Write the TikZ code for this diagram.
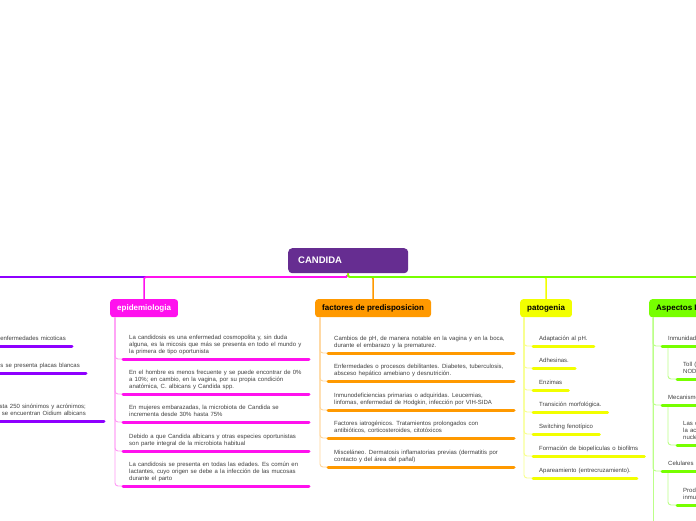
\documentclass[tikz,border=0pt]{standalone}
\usepackage{fontspec}
\setmainfont{Liberation Sans}
\newfontfamily\canditemfont{Liberation Sans}[WordSpace=1.3]
\usetikzlibrary{positioning}
\definecolor{RootPurple}{HTML}{662D91}
\definecolor{LeftViolet}{HTML}{8E00FF}
\definecolor{EpiMagenta}{HTML}{FF11EE}
\definecolor{EpiSoft}{HTML}{FF99F6}
\definecolor{FactOrange}{HTML}{FF9900}
\definecolor{FactSoft}{HTML}{FFD699}
\definecolor{PatoYellow}{HTML}{F2FF00}
\definecolor{PatoSoft}{HTML}{F8FF8C}
\definecolor{AspGreen}{HTML}{77FF00}
\definecolor{AspSoft}{HTML}{BBFF88}
\definecolor{TextGray}{HTML}{404040}
\tikzset{
candroot/.style={fill=RootPurple, text=white, rounded corners=4pt, anchor=north west, minimum height=25pt, text width=100pt, inner xsep=10pt, align=left, font=\fontsize{9.5}{11}\selectfont\bfseries},
candbranch/.style={rounded corners=3pt, anchor=north west, minimum height=18pt, inner xsep=7pt, font=\fontsize{8}{9}\selectfont\bfseries},
canditem/.style={anchor=south west, align=left, inner xsep=6pt, inner ysep=3.5pt, text=TextGray, font=\canditemfont\fontsize{6}{6.8}\selectfont, execute at end node=\strut},
candleft/.style={canditem, anchor=south east, align=right},
candlink/.style={line width=1.6pt, rounded corners=2pt, draw=#1},
candtrunk/.style={line width=0.9pt, rounded corners=3pt, draw=#1},
candline/.style={line width=3pt, line cap=round, draw=#1}
}
\begin{document}
\begin{tikzpicture}[x=1pt, y=-1pt]
  \useasboundingbox (0,0) rectangle (696,520);
  \fill[white] (0,0) rectangle (696,520);
  \clip (0,0) rectangle (696,520);
  % root and main branches
  \node[candroot] (root) at (288,248) {CANDIDA};
  \coordinate (hub) at (348,277);
  \coordinate (leftend) at (0,277);
  \node[candbranch, fill=EpiMagenta, text=white] (epi) at (110,299) {epidemiologia};
  \node[candbranch, fill=FactOrange] (fact) at (315,299) {factores de predisposicion};
  \node[candbranch, fill=PatoYellow] (pato) at (520,299) {patogenia};
  \node[candbranch, fill=AspGreen] (asp) at (649,299) {Aspectos Inmunológicos};
  \draw[candlink=LeftViolet] (root.south) -- (hub) -- (leftend);
  \draw[candlink=EpiMagenta] (root.south) -- (hub) -| (epi.north);
  \draw[candlink=FactOrange] (root.south) -- (hub) -| (fact.north);
  \draw[candlink=PatoYellow] (root.south) -- (hub) -| (pato.north);
  \draw[candlink=AspGreen] (root.south) -- (hub) -| (asp.north);
  \coordinate (epitrunk) at ([xshift=5pt]epi.south west);
  \coordinate (facttrunk) at ([xshift=5pt]fact.south west);
  \coordinate (patotrunk) at ([xshift=4pt]pato.south west);
  \coordinate (asptrunk) at ([xshift=4pt]asp.south west);
  \coordinate (aspend) at (653,522);
  % left branch (cut off)
  \node[candleft] (v1) at (72,346) {Es una de las enfermedades micoticas};
  \node[candleft] (v2) at (86,373) {En los niños se presenta placas blancas};
  \node[candleft] (v3) at (92,421) {Se le conocen hasta 250 sinónimos y acrónimos;\\en la literatura se encuentran Oidium albicans};
  \draw[candline=LeftViolet] (v1.south west) -- (v1.south east);
  \draw[candline=LeftViolet] (v2.south west) -- (v2.south east);
  \draw[candline=LeftViolet] (v3.south west) -- ([xshift=12pt]v3.south east);
  % epidemiologia
  \node[canditem] (e1) at (123,359) {La candidosis es una enfermedad cosmopolita y, sin duda\\alguna, es la micosis que más se presenta en todo el mundo y\\la primera de tipo oportunista};
  \node[canditem] (e2) at (123,394) {En el hombre es menos frecuente y se puede encontrar de 0\%\\a 10\%; en cambio, en la vagina, por su propia condición\\anatómica, C. albicans y Candida spp.};
  \node[canditem] (e3) at (123,422) {En mujeres embarazadas, la microbiota de Candida se\\incrementa desde 30\% hasta 75\%};
  \node[canditem] (e4) at (123,451) {Debido a que Candida albicans y otras especies oportunistas\\son parte integral de la microbiota habitual};
  \node[canditem] (e5) at (123,486) {La candidosis se presenta en todas las edades. Es común en\\lactantes, cuyo origen se debe a la infección de las mucosas\\durante el parto};
  \draw[candtrunk=EpiSoft] (epitrunk) |- (e1.south west);
  \draw[candtrunk=EpiSoft] (epitrunk) |- (e2.south west);
  \draw[candtrunk=EpiSoft] (epitrunk) |- (e3.south west);
  \draw[candtrunk=EpiSoft] (epitrunk) |- (e4.south west);
  \draw[candtrunk=EpiSoft] (epitrunk) |- (e5.south west);
  \draw[candline=EpiMagenta] (e1.south west) -- ++(186,0);
  \draw[candline=EpiMagenta] (e2.south west) -- ++(186,0);
  \draw[candline=EpiMagenta] (e3.south west) -- ++(186,0);
  \draw[candline=EpiMagenta] (e4.south west) -- ++(186,0);
  \draw[candline=EpiMagenta] (e5.south west) -- ++(186,0);
  % factores de predisposicion
  \node[canditem] (f1) at (328,353) {Cambios de pH, de manera notable en la vagina y en la boca,\\durante el embarazo y la prematurez.};
  \node[canditem] (f2) at (328,381) {Enfermedades o procesos debilitantes. Diabetes, tuberculosis,\\absceso hepático amebiano y desnutrición.};
  \node[canditem] (f3) at (328,410) {Inmunodeficiencias primarias o adquiridas. Leucemias,\\linfomas, enfermedad de Hodgkin, infección por VIH-SIDA};
  \node[canditem] (f4) at (328,438) {Factores iatrogénicos. Tratamientos prolongados con\\antibióticos, corticosteroides, citotóxicos};
  \node[canditem] (f5) at (328,467) {Misceláneo. Dermatosis inflamatorias previas (dermatitis por\\contacto y del área del pañal)};
  \draw[candtrunk=FactSoft] (facttrunk) |- (f1.south west);
  \draw[candtrunk=FactSoft] (facttrunk) |- (f2.south west);
  \draw[candtrunk=FactSoft] (facttrunk) |- (f3.south west);
  \draw[candtrunk=FactSoft] (facttrunk) |- (f4.south west);
  \draw[candtrunk=FactSoft] (facttrunk) |- (f5.south west);
  \draw[candline=FactOrange] (f1.south west) -- ++(186,0);
  \draw[candline=FactOrange] (f2.south west) -- ++(186,0);
  \draw[candline=FactOrange] (f3.south west) -- ++(186,0);
  \draw[candline=FactOrange] (f4.south west) -- ++(186,0);
  \draw[candline=FactOrange] (f5.south west) -- ++(186,0);
  % patogenia
  \node[canditem] (p1) at (533,346) {Adaptación al pH.};
  \node[canditem] (p2) at (533,368) {Adhesinas.};
  \node[canditem] (p3) at (533,390) {Enzimas};
  \node[canditem] (p4) at (533,412) {Transición morfológica.};
  \node[canditem] (p5) at (533,434) {Switching fenotípico};
  \node[canditem] (p6) at (533,456) {Formación de biopelículas o biofilms};
  \node[canditem] (p7) at (533,478) {Apareamiento (entrecruzamiento).};
  \foreach \n in {p1,p2,p3,p4,p5,p6,p7} {
    \draw[candtrunk=PatoSoft] (patotrunk) |- (\n.south west);
    \draw[candline=PatoYellow] (\n.south west) -- (\n.south east);
  }
  % aspectos inmunologicos (cut off)
  \node[canditem] (a1) at (662,346) {Inmunidad innata};
  \node[canditem] (a11) at (677,379) {Toll (TLR) y receptores\\NOD (NLR)};
  \node[canditem] (a2) at (662,405) {Mecanismos de evasión};
  \node[canditem] (a21) at (677,445) {Las células epiteliales inducen\\la activación del factor\\nuclear kappa B};
  \node[canditem] (a3) at (662,471) {Celulares};
  \node[canditem] (a31) at (677,505) {Producción de citocinas\\inmunorreguladoras};
  \draw[candtrunk=AspSoft] (asptrunk) -- (aspend);
  \draw[candtrunk=AspSoft] (asptrunk) |- (a1.south west);
  \draw[candtrunk=AspSoft] (asptrunk) |- (a2.south west);
  \draw[candtrunk=AspSoft] (asptrunk) |- (a3.south west);
  \draw[candtrunk=AspSoft] ([xshift=6pt]a1.south west) |- (a11.south west);
  \draw[candtrunk=AspSoft] ([xshift=6pt]a2.south west) |- (a21.south west);
  \draw[candtrunk=AspSoft] ([xshift=6pt]a3.south west) |- (a31.south west);
  \draw[candline=AspGreen] (a1.south west) -- (a1.south east);
  \draw[candline=AspGreen] (a11.south west) -- (a11.south east);
  \draw[candline=AspGreen] (a2.south west) -- (a2.south east);
  \draw[candline=AspGreen] (a21.south west) -- (a21.south east);
  \draw[candline=AspGreen] (a3.south west) -- (a3.south east);
  \draw[candline=AspGreen] (a31.south west) -- (a31.south east);
\end{tikzpicture}
\end{document}
